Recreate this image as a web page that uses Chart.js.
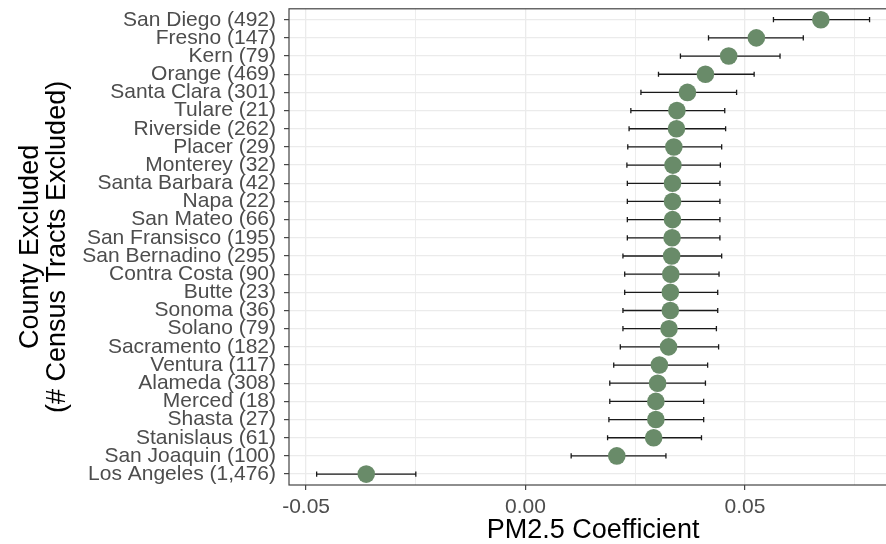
<!DOCTYPE html>
<html>
<head>
<meta charset="utf-8">
<title>PM2.5 Coefficient by County Excluded</title>
<script src="https://cdn.jsdelivr.net/npm/chart.js"></script>
<style>
    html, body { margin: 0; padding: 0; background: #fff; overflow: hidden; }
    #wrap { width: 886px; height: 544px; overflow: hidden; }
</style>
</head>
<body>
<div id="wrap">
    <!-- wider than the window: the panel's right edge is cut off like in the original -->
    <canvas id="myDotChart" width="906" height="544"></canvas>
</div>
<script>
const counties = [
    'San Diego (492)', 'Fresno (147)', 'Kern (79)', 'Orange (469)', 'Santa Clara (301)',
    'Tulare (21)', 'Riverside (262)', 'Placer (29)', 'Monterey (32)', 'Santa Barbara (42)',
    'Napa (22)', 'San Mateo (66)', 'San Fransisco (195)', 'San Bernadino (295)', 'Contra Costa (90)',
    'Butte (23)', 'Sonoma (36)', 'Solano (79)', 'Sacramento (182)', 'Ventura (117)',
    'Alameda (308)', 'Merced (18)', 'Shasta (27)', 'Stanislaus (61)', 'San Joaquin (100)',
    'Los Angeles (1,476)'
];

const estimate = [
    0.0673, 0.0526, 0.0463, 0.0410, 0.0369,
    0.0345, 0.0344, 0.0338, 0.0336, 0.0335,
    0.0335, 0.0335, 0.0334, 0.0333, 0.0331,
    0.0330, 0.0330, 0.0327, 0.0326, 0.0305,
    0.0301, 0.0297, 0.0297, 0.0292, 0.0208,
    -0.0363
];

const lower = [
    0.0565, 0.0417, 0.0353, 0.0303, 0.0263,
    0.0240, 0.0236, 0.0233, 0.0231, 0.0232,
    0.0232, 0.0232, 0.0232, 0.0222, 0.0226,
    0.0226, 0.0222, 0.0222, 0.0216, 0.0201,
    0.0192, 0.0192, 0.0190, 0.0187, 0.0104,
    -0.0476
];

const upper = [
    0.0784, 0.0633, 0.0580, 0.0521, 0.0481,
    0.0454, 0.0456, 0.0447, 0.0444, 0.0443,
    0.0443, 0.0443, 0.0443, 0.0447, 0.0441,
    0.0438, 0.0438, 0.0435, 0.0440, 0.0415,
    0.0410, 0.0406, 0.0406, 0.0401, 0.0320,
    -0.0250
];

const xTicks = [-0.05, -0.025, 0, 0.025, 0.05, 0.075];
const xTickLabels = ['-0.05', '', '0.00', '', '0.05', ''];

const FONT = "'Liberation Sans', Arial, sans-serif";

// horizontal error bars, drawn under the points
const errorBars = {
    id: 'errorBars',
    beforeDatasetsDraw(chart) {
        const { ctx, scales: { x, y } } = chart;
        ctx.save();
        ctx.strokeStyle = '#1a1a1a';
        ctx.lineWidth = 1.3;
        lower.forEach((lo, i) => {
            const yy = y.getPixelForValue(i + 1);
            const x0 = x.getPixelForValue(lo);
            const x1 = x.getPixelForValue(upper[i]);
            ctx.beginPath();
            ctx.moveTo(x0, yy);
            ctx.lineTo(x1, yy);
            ctx.moveTo(x0, yy - 2.6);
            ctx.lineTo(x0, yy + 2.6);
            ctx.moveTo(x1, yy - 2.6);
            ctx.lineTo(x1, yy + 2.6);
            ctx.stroke();
        });
        ctx.restore();
    }
};

// theme_bw style panel border
const panelBorder = {
    id: 'panelBorder',
    afterDraw(chart) {
        const { ctx, chartArea } = chart;
        ctx.save();
        ctx.strokeStyle = '#444';
        ctx.lineWidth = 1.2;
        ctx.strokeRect(chartArea.left, chartArea.top, chartArea.right - chartArea.left, chartArea.bottom - chartArea.top);
        ctx.restore();
    }
};

function createDotChart() {
    const config = {
        type: 'scatter',
        data: {
            datasets: [{
                label: 'PM2.5 Coefficient',
                data: estimate.map((v, i) => ({ x: v, y: i + 1 })),
                backgroundColor: '#698B69',
                borderWidth: 0,
                pointRadius: 8.8,
                pointHoverRadius: 8.8
            }]
        },
        options: {
            responsive: false,
            animation: false,
            layout: {
                padding: { top: 7, right: 1, bottom: 0, left: 0 }
            },
            plugins: {
                legend: { display: false },
                tooltip: { enabled: false }
            },
            scales: {
                x: {
                    type: 'linear',
                    min: -0.0539,
                    max: 0.0847,
                    afterBuildTicks: (scale) => {
                        scale.ticks = xTicks.map(v => ({ value: v }));
                    },
                    afterFit: (scale) => {
                        scale.height = 59;
                        scale.paddingLeft = 0;
                        scale.paddingRight = 0;
                    },
                    border: { display: false },
                    grid: {
                        color: '#EBEBEB',
                        lineWidth: (c) => (c.tick && xTickLabels[xTicks.indexOf(c.tick.value)] ? 1.3 : 0.9),
                        tickColor: (c) => (c.tick && xTickLabels[xTicks.indexOf(c.tick.value)] ? '#333' : 'rgba(0,0,0,0)'),
                        tickLength: 5,
                        tickWidth: 1.1
                    },
                    ticks: {
                        autoSkip: false,
                        maxRotation: 0,
                        padding: 5,
                        color: '#4D4D4D',
                        font: { family: FONT, size: 21 },
                        callback: (value) => xTickLabels[xTicks.indexOf(value)]
                    },
                    title: {
                        display: true,
                        text: 'PM2.5 Coefficient',
                        color: '#000',
                        font: { family: FONT, size: 27, lineHeight: 1 },
                        padding: { top: 0, bottom: 0 }
                    }
                },
                y: {
                    type: 'linear',
                    reverse: true,
                    min: 0.4,
                    max: counties.length + 0.6,
                    afterBuildTicks: (scale) => {
                        scale.ticks = counties.map((c, i) => ({ value: i + 1 }));
                    },
                    afterFit: (scale) => {
                        scale.width = 289;
                        scale.paddingTop = 0;
                        scale.paddingBottom = 0;
                    },
                    border: { display: false },
                    grid: {
                        color: '#EBEBEB',
                        lineWidth: 1.3,
                        tickColor: '#333',
                        tickLength: 5,
                        tickWidth: 1.1
                    },
                    ticks: {
                        autoSkip: false,
                        padding: 8,
                        color: '#4D4D4D',
                        font: { family: FONT, size: 21 },
                        callback: (value) => counties[value - 1]
                    },
                    title: {
                        display: true,
                        text: ['County Excluded', '(# Census Tracts Excluded)'],
                        color: '#000',
                        font: { family: FONT, size: 27, lineHeight: 1 },
                        padding: { top: 17, bottom: 0 }
                    }
                }
            }
        },
        plugins: [errorBars, panelBorder]
    };

    const ctx = document.getElementById('myDotChart').getContext('2d');
    new Chart(ctx, config);
}

createDotChart();
</script>
</body>
</html>
